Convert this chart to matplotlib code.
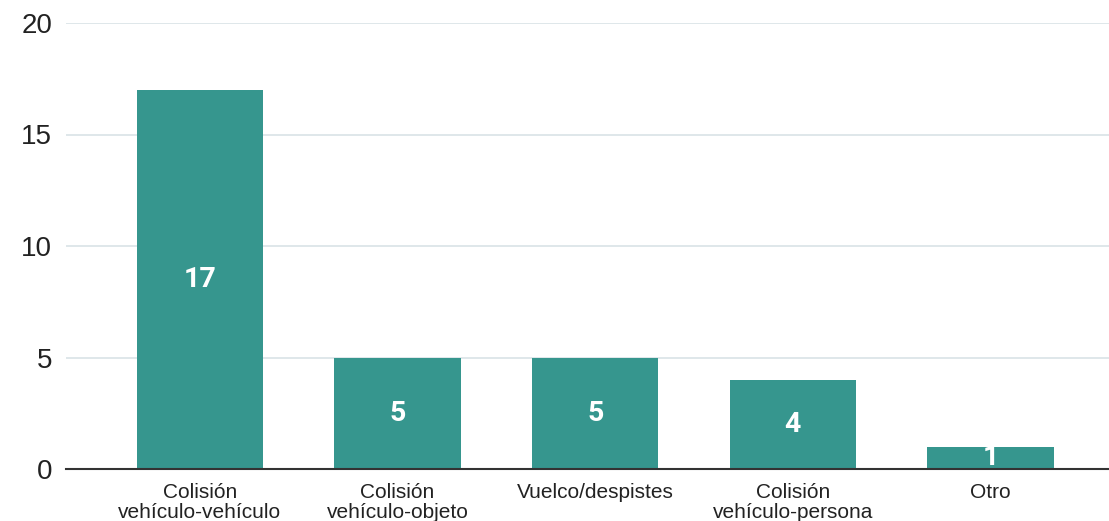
import matplotlib.pyplot as plt

categorias = ["Colisión\nvehículo-vehículo", "Colisión\nvehículo-objeto", "Vuelco/despistes",
              "Colisión\nvehículo-persona", "Otro"]
valores = [17, 5, 5, 4, 1]

color_barra = "#36968e"

plt.rcParams['font.family'] = ['Liberation Sans', 'DejaVu Sans']

fig = plt.figure(figsize=(11.09, 5.21), dpi=100)
ax = fig.add_axes([66 / 1109, 52 / 521, 1 - 66 / 1109, (469 - 23) / 521])

x = list(range(len(categorias)))
barras = ax.bar(x, valores, width=0.64, color=color_barra, zorder=3)

for b, v in zip(barras, valores):
    ax.text(b.get_x() + b.get_width() / 2, v / 2, str(v), ha="center", va="center",
            color="white", fontsize=20.5, fontweight="bold", family=["Roboto", "DejaVu Sans"], zorder=4)

ax.set_ylim(0, 20)
ax.set_yticks([0, 5, 10, 15, 20])
ax.set_xlim(-0.678, 4.6)
ax.set_xticks(x)
ax.set_xticklabels(categorias, fontsize=15, color="#222222", linespacing=1.08)
ax.tick_params(axis="y", labelsize=20, colors="#222222", length=0, pad=10)
ax.tick_params(axis="x", length=0, pad=10)

ax.grid(axis="y", color="#d9e3e6", linewidth=1.2, zorder=0)
for s in ["top", "right", "left"]:
    ax.spines[s].set_visible(False)
ax.spines["bottom"].set_color("#333333")
ax.spines["bottom"].set_linewidth(1.5)
ax.spines["bottom"].set_zorder(5)

plt.savefig("out.png", dpi=100)
plt.close()
